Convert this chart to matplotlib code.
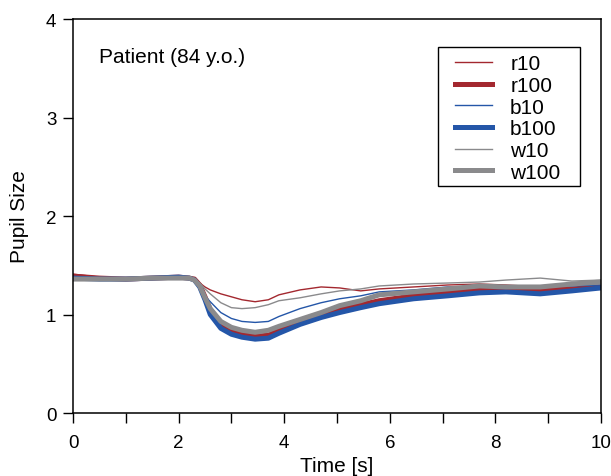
import matplotlib
matplotlib.use("Agg")
import matplotlib.pyplot as plt
from matplotlib.ticker import MultipleLocator
from matplotlib.patches import Rectangle

plt.rcParams['font.family'] = ['Liberation Sans', 'DejaVu Sans']

# time points (s)
t = [0.0, 0.5, 1.0, 1.5, 2.0, 2.2, 2.3, 2.4, 2.5, 2.6, 2.8, 3.0, 3.2, 3.45,
     3.7, 3.9, 4.3, 4.7, 5.05, 5.45, 5.8, 6.45, 7.1, 7.7, 8.2, 8.85, 9.45, 10.0]

r10 = [1.41, 1.38, 1.37, 1.37, 1.38, 1.37, 1.36, 1.32, 1.28, 1.25, 1.21, 1.18, 1.15, 1.13,
       1.15, 1.20, 1.25, 1.28, 1.27, 1.24, 1.26, 1.28, 1.30, 1.31, 1.30, 1.28, 1.27, 1.29]
r100 = [1.39, 1.37, 1.36, 1.37, 1.38, 1.37, 1.36, 1.30, 1.18, 1.05, 0.91, 0.84, 0.80, 0.78,
        0.79, 0.84, 0.92, 0.99, 1.05, 1.10, 1.14, 1.19, 1.22, 1.25, 1.26, 1.25, 1.26, 1.28]
b10 = [1.37, 1.37, 1.37, 1.38, 1.38, 1.37, 1.35, 1.28, 1.19, 1.13, 1.02, 0.96, 0.93, 0.92,
       0.93, 0.98, 1.06, 1.12, 1.16, 1.19, 1.23, 1.25, 1.28, 1.28, 1.28, 1.28, 1.29, 1.30]
b100 = [1.37, 1.36, 1.36, 1.37, 1.38, 1.37, 1.35, 1.28, 1.15, 1.00, 0.86, 0.80, 0.77, 0.75,
        0.76, 0.81, 0.90, 0.97, 1.02, 1.07, 1.11, 1.16, 1.19, 1.22, 1.23, 1.21, 1.24, 1.27]
w10 = [1.37, 1.37, 1.36, 1.37, 1.38, 1.37, 1.36, 1.32, 1.26, 1.21, 1.12, 1.07, 1.06, 1.07,
       1.10, 1.14, 1.17, 1.21, 1.24, 1.26, 1.29, 1.31, 1.32, 1.33, 1.35, 1.37, 1.34, 1.35]
w100 = [1.36, 1.36, 1.36, 1.37, 1.37, 1.37, 1.35, 1.29, 1.17, 1.06, 0.93, 0.87, 0.84, 0.82,
        0.84, 0.88, 0.95, 1.02, 1.09, 1.14, 1.20, 1.23, 1.26, 1.29, 1.28, 1.28, 1.31, 1.33]

RED = '#a3282f'
BLUE = '#2456a8'
GRAY = '#8a8a8c'

fig = plt.figure(figsize=(6.11, 4.77), dpi=100)
ax = fig.add_axes([0.1195, 0.132, 0.864, 0.826])

ax.plot(t, r10, color=RED, lw=1.0, label='r10')
ax.plot(t, r100, color=RED, lw=3.6, label='r100')
ax.plot(t, b10, color=BLUE, lw=1.0, label='b10')
ax.plot(t, b100, color=BLUE, lw=3.6, label='b100')
ax.plot(t, w10, color=GRAY, lw=1.0, label='w10')
ax.plot(t, w100, color=GRAY, lw=3.6, label='w100')

ax.set_xlim(0, 10)
ax.set_ylim(0, 4)
ax.xaxis.set_major_locator(MultipleLocator(2))
ax.xaxis.set_minor_locator(MultipleLocator(1))
ax.yaxis.set_major_locator(MultipleLocator(1))
ax.tick_params(which='both', direction='out', length=7, width=1.0, labelsize=13.5,
               top=False, right=False, pad=5)
ax.tick_params(axis='x', which='both', pad=8)
for s in ax.spines.values():
    s.set_linewidth(1.1)

ax.set_xlabel('Time [s]', fontsize=15, labelpad=4)
ax.set_ylabel('Pupil Size', fontsize=15, labelpad=12)

ax.text(0.05, 0.93, 'Patient (84 y.o.)', transform=ax.transAxes, fontsize=15,
        va='top', ha='left')

# legend frame
ax.add_patch(Rectangle((0.691, 0.576), 0.269, 0.353, transform=ax.transAxes,
                       facecolor='white', edgecolor='black', lw=1.0, zorder=4))
leg = ax.legend(loc='upper left', bbox_to_anchor=(0.7235, 0.911), fontsize=15,
                frameon=False, borderaxespad=0, handlelength=1.8,
                handletextpad=0.85, labelspacing=0.13, borderpad=0)
leg.set_zorder(5)

fig.savefig('out.png', dpi=100)
